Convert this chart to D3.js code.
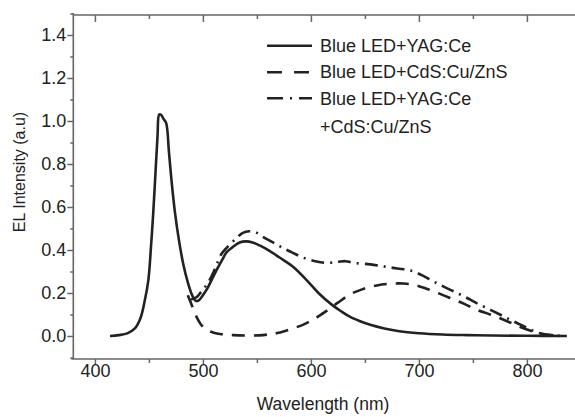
<!DOCTYPE html>
<html>
<head>
<meta charset="utf-8">
<script src="https://cdn.jsdelivr.net/npm/d3@7/dist/d3.min.js"></script>
<style>
  html, body { margin: 0; padding: 0; background: #fff; }
  svg { display: block; }
  text { font-family: "Liberation Sans", Arial, sans-serif; fill: #222; }
</style>
</head>
<body>
<svg id="chart" width="575" height="417"></svg>
<script>
// ---- data ----
const seriesNames = ["Blue LED+YAG:Ce", "Blue LED+CdS:Cu/ZnS", "Blue LED+YAG:Ce", "+CdS:Cu/ZnS"];

const yagWl = [414,422,430,437,442,446,449.5,452,454,456,458,459.5,461,463.5,466,468.5,471,474,478,482,486,490,493,496,500,504,508,513,518,522,528,534,540,546,553,562,571,584,596,607,619,628,636,645,655,668,682,700,722,745,768,800,837];
const yagVal = [0.0,0.004,0.012,0.035,0.08,0.16,0.26,0.42,0.57,0.75,0.93,1.03,1.03,1.01,0.99,0.86,0.72,0.58,0.44,0.33,0.25,0.19,0.165,0.165,0.19,0.22,0.26,0.31,0.355,0.39,0.415,0.435,0.44,0.435,0.42,0.395,0.365,0.32,0.26,0.2,0.147,0.115,0.09,0.07,0.052,0.035,0.022,0.013,0.007,0.004,0.002,0.001,0.0];

const cdsWl = [486,490,494,498,503,510,518,528,540,552,562,570,580,593,604,614,625,636,648,661,673,686,697,707,719,732,743,753,766,778,790,800,810,818,828];
const cdsVal = [0.19,0.14,0.09,0.055,0.03,0.015,0.008,0.004,0.002,0.003,0.008,0.015,0.03,0.053,0.082,0.115,0.155,0.193,0.218,0.235,0.243,0.244,0.236,0.22,0.197,0.17,0.147,0.123,0.1,0.077,0.05,0.03,0.015,0.007,0.002];

const bothWl = [489,494,499,505,511,517,522,530,537,543,549,556,564,572,582,593,604,614,625,632,640,655,666,676,686,695,704,713,722,732,743,753,764,775,784,794,802,809,817,825,832];
const bothVal = [0.17,0.18,0.21,0.25,0.31,0.38,0.41,0.45,0.48,0.487,0.482,0.46,0.438,0.415,0.39,0.364,0.348,0.34,0.345,0.348,0.34,0.333,0.325,0.317,0.31,0.3,0.28,0.255,0.232,0.208,0.181,0.154,0.127,0.1,0.077,0.053,0.033,0.018,0.007,0.002,0.0];

const xMajor = [400,500,600,700,800];
const xMinor = [450,550,650,750];
const yMajor = [0.0,0.2,0.4,0.6,0.8,1.0,1.2,1.4];
const yMinor = [-0.1,0.1,0.3,0.5,0.7,0.9,1.1,1.3,1.5];

// ---- layout ----
const svg = d3.select("#chart");
const L = 73.3, R = 575.5, T = 15, B = 359;
const x = d3.scaleLinear().domain([380, 845]).range([L, R]);
const y = d3.scaleLinear().domain([-0.107, 1.493]).range([B, T]);
const axisColor = "#666";
const ink = "#222";
const fs = "18px";

// bottom axis
const gB = svg.append("g").attr("transform", `translate(0,${B})`)
  .call(d3.axisBottom(x).tickValues(xMajor).tickSize(6).tickPadding(-1).tickFormat(d3.format("d")));
const gBm = svg.append("g").attr("transform", `translate(0,${B})`)
  .call(d3.axisBottom(x).tickValues(xMinor).tickSize(4).tickFormat(""));
// top axis (ticks inward)
const gT = svg.append("g").attr("transform", `translate(0,${T})`)
  .call(d3.axisBottom(x).tickValues(xMajor).tickSize(7).tickFormat(""));
const gTm = svg.append("g").attr("transform", `translate(0,${T})`)
  .call(d3.axisBottom(x).tickValues(xMinor).tickSize(4).tickFormat(""));
// left axis
const gL = svg.append("g").attr("transform", `translate(${L},0)`)
  .call(d3.axisLeft(y).tickValues(yMajor).tickSize(6).tickPadding(1).tickFormat(d3.format(".1f")));
const gLm = svg.append("g").attr("transform", `translate(${L},0)`)
  .call(d3.axisLeft(y).tickValues(yMinor).tickSize(3).tickFormat(""));

[gB, gBm, gT, gTm, gL, gLm].forEach(g => {
  g.select(".domain").remove();
  g.selectAll(".tick line").attr("stroke", axisColor).attr("stroke-width", 1.5);
  g.selectAll(".tick text").attr("font-size", fs).attr("fill", ink)
    .attr("font-family", "Liberation Sans, Arial, sans-serif");
});

// axis lines
svg.append("line").attr("x1", L).attr("x2", L).attr("y1", T - 2).attr("y2", B)
  .attr("stroke", axisColor).attr("stroke-width", 1.6);
svg.append("line").attr("x1", L - 2).attr("x2", 575).attr("y1", B).attr("y2", B)
  .attr("stroke", axisColor).attr("stroke-width", 1.6);
svg.append("line").attr("x1", L).attr("x2", 575).attr("y1", T).attr("y2", T)
  .attr("stroke", axisColor).attr("stroke-width", 1.6);

// axis titles
svg.append("text").attr("x", 323).attr("y", 410).attr("text-anchor", "middle")
  .attr("font-size", "17.5px").text("Wavelength (nm)");
svg.append("text").attr("transform", "translate(25,172) rotate(-90)").attr("text-anchor", "middle")
  .attr("font-size", "16px").text("EL Intensity (a.u)");

// curves
const line = d3.line().x(d => x(d[0])).y(d => y(d[1])).curve(d3.curveCatmullRom.alpha(0.5));
const series = [
  { wl: yagWl, val: yagVal, dash: null },
  { wl: cdsWl, val: cdsVal, dash: "13,9" },
  { wl: bothWl, val: bothVal, dash: "13,6,2,6" }
];
series.forEach(s => {
  svg.append("path").datum(d3.zip(s.wl, s.val))
    .attr("d", line).attr("fill", "none").attr("stroke", ink)
    .attr("stroke-width", 2.6).attr("stroke-linejoin", "round")
    .attr("stroke-dasharray", s.dash);
});

// legend
const legRows = [45.7, 72.3, 98.3];
const legDash = [null, "15,12", "16,7,2,7"];
legRows.forEach((ly, i) => {
  svg.append("line").attr("x1", 267).attr("x2", 312).attr("y1", ly).attr("y2", ly)
    .attr("stroke", ink).attr("stroke-width", 2.6).attr("stroke-dasharray", legDash[i]);
});
const legText = [51.7, 78.3, 105, 133.3];
seriesNames.forEach((t, i) => {
  svg.append("text").attr("x", 320).attr("y", legText[i]).attr("font-size", fs).text(t);
});
</script>
</body>
</html>
